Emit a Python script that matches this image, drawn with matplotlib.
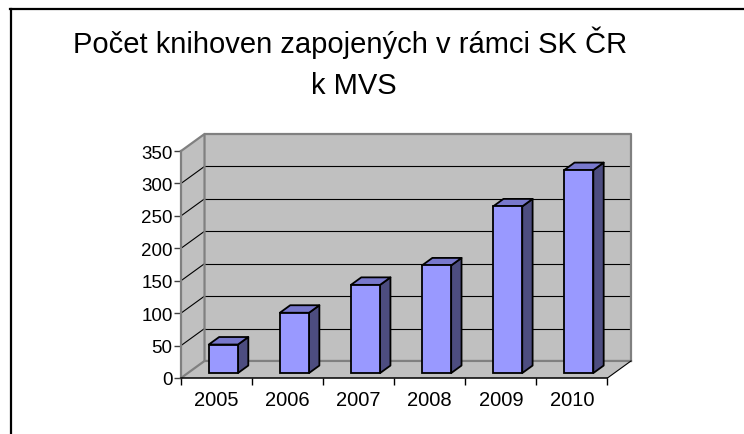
import numpy as np
import matplotlib
matplotlib.use('Agg')
import matplotlib.pyplot as plt
from matplotlib.patches import Polygon
from matplotlib.lines import Line2D

plt.rcParams['font.family'] = ['Liberation Sans', 'DejaVu Sans']

# data
years = ['2005', '2006', '2007', '2008', '2009', '2010']
counts = [44, 93, 136, 166, 257, 313]
y_ticks = [0, 50, 100, 150, 200, 250, 300, 350]
title_lines = ['Počet knihoven zapojených v rámci SK ČR', 'k MVS']

# fake 3d: depth offset of the walls in data units
DX = 0.331
DY = 26.3
ymax = 350
n = len(years)
wall = '#C0C0C0'
edge = '#808080'

fig = plt.figure(figsize=(7.44, 4.35), dpi=100)
ax = fig.add_axes([181 / 744, (435 - 379) / 435, 450 / 744, 244 / 435])
ax.set_xlim(0, n + DX)
ax.set_ylim(0, ymax + DY)
ax.patch.set_visible(False)

# walls and floor
ax.add_patch(Polygon([(DX, DY), (n + DX, DY), (n + DX, ymax + DY), (DX, ymax + DY)],
                     closed=True, fc=wall, ec='none', zorder=1))
ax.add_patch(Polygon([(0, 0), (DX, DY), (DX, ymax + DY), (0, ymax)],
                     closed=True, fc=wall, ec='none', zorder=1))
ax.add_patch(Polygon([(0, 0), (n, 0), (n + DX, DY), (DX, DY)],
                     closed=True, fc=wall, ec='none', zorder=1))

for v in y_ticks[1:-1]:
    ax.plot([DX, n + DX], [v + DY, v + DY], color='black', lw=0.8, zorder=2)
    ax.plot([0, DX], [v, v + DY], color='black', lw=0.8, zorder=2)

# wall edges
ax.plot([DX, n + DX, n + DX], [ymax + DY, ymax + DY, DY], color=edge, lw=1.6, zorder=2, clip_on=False)
ax.plot([0, DX, DX], [ymax, ymax + DY, DY], color=edge, lw=1.6, zorder=2, clip_on=False)
ax.plot([0, DX, n + DX], [0, DY, DY], color=edge, lw=1.6, zorder=2, clip_on=False)
ax.plot([n, n + DX], [0, DY], color='black', lw=0.8, zorder=2, clip_on=False)

# bars
width = 0.41
d0 = 0.29
d1 = 0.73
for i, v in enumerate(counts):
    x0 = i + 0.5 - width / 2 + d0 * DX
    y0 = d0 * DY
    ox = (d1 - d0) * DX
    oy = (d1 - d0) * DY
    x1 = x0 + width
    side = [(x1, y0), (x1 + ox, y0 + oy), (x1 + ox, y0 + v + oy), (x1, y0 + v)]
    top = [(x0, y0 + v), (x1, y0 + v), (x1 + ox, y0 + v + oy), (x0 + ox, y0 + v + oy)]
    ax.add_patch(Polygon(side, closed=True, fc='#4D4D80', ec='black', lw=1.3, zorder=3, joinstyle='round'))
    ax.add_patch(Polygon(top, closed=True, fc='#7878CC', ec='black', lw=1.3, zorder=3, joinstyle='round'))
    ax.bar(i + 0.5 + d0 * DX, v, width=width, bottom=y0, color='#9999FF',
           edgecolor='black', linewidth=1.3, zorder=4)

# axes
for s in ['top', 'right']:
    ax.spines[s].set_visible(False)
ax.spines['left'].set_bounds(0, ymax)
ax.spines['left'].set_color(edge)
ax.spines['left'].set_linewidth(1.6)
ax.spines['bottom'].set_bounds(0, n)
ax.spines['bottom'].set_color('black')
ax.spines['bottom'].set_linewidth(1.1)
for s in ['left', 'bottom']:
    ax.spines[s].set_zorder(5)

ax.set_yticks(y_ticks)
ax.set_yticklabels([str(t) for t in y_ticks])
ax.tick_params(axis='y', direction='out', length=5, width=1, color='#404040',
               labelsize=13.5, pad=1)
ax.set_xticks(np.arange(n + 1))
ax.set_xticklabels([])
ax.set_xticks(np.arange(n) + 0.5, minor=True)
ax.set_xticklabels(years, minor=True)
ax.tick_params(axis='x', which='major', direction='out', length=5, width=1, color='black')
ax.tick_params(axis='x', which='minor', length=0, labelsize=14.5, pad=9)

fig.text(350 / 744, 1 - 53 / 435, title_lines[0], ha='center', va='baseline', fontsize=21)
fig.text(354 / 744, 1 - 94 / 435, title_lines[1], ha='center', va='baseline', fontsize=21)

# chart border
fig.add_artist(Line2D([10.5 / 744, 10.5 / 744], [0, 1 - 10 / 435], color='black', lw=1.6))
fig.add_artist(Line2D([10 / 744, 1], [1 - 10 / 435, 1 - 10 / 435], color='black', lw=1.6))

fig.savefig('out.png', dpi=100)
